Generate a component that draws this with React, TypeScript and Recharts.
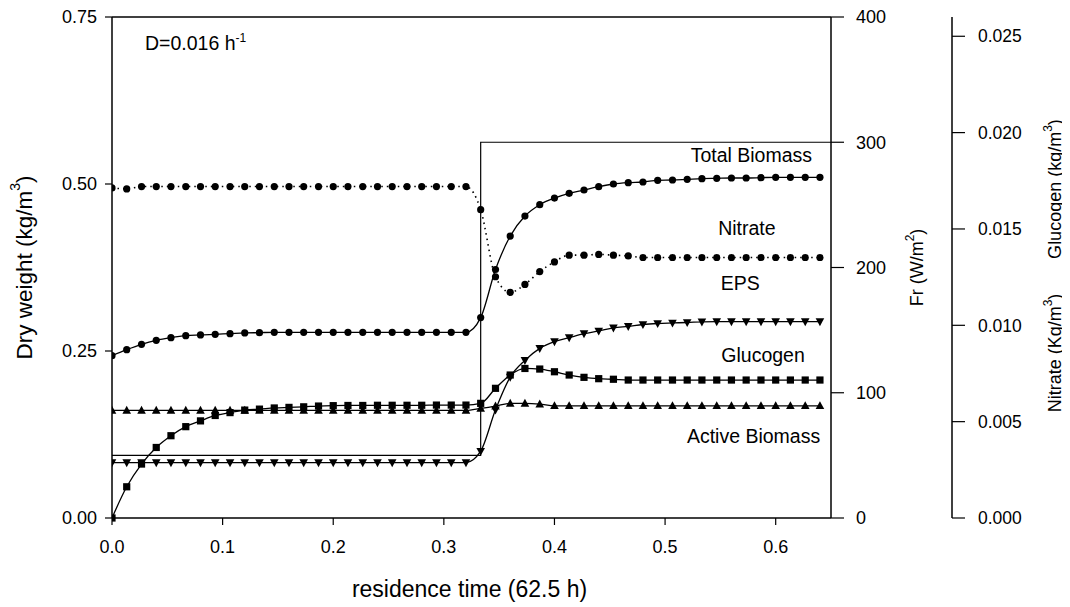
import React from "react";
import {
  ComposedChart,
  Line,
  XAxis,
  YAxis,
  ReferenceLine,
  ReferenceDot,
  Label,
} from "recharts";

// residence time (fraction of 62.5 h)
const time = [
  0, 0.0133, 0.0267, 0.04, 0.0533, 0.0667, 0.08, 0.0933, 0.1067, 0.12,
  0.1333, 0.1467, 0.16, 0.1733, 0.1867, 0.2, 0.2133, 0.2267, 0.24, 0.2533,
  0.2667, 0.28, 0.2933, 0.3067, 0.32, 0.3333, 0.3467, 0.36, 0.3733, 0.3867,
  0.4, 0.4133, 0.4267, 0.44, 0.4533, 0.4667, 0.48, 0.4933, 0.5067, 0.52,
  0.5333, 0.5467, 0.56, 0.5733, 0.5867, 0.6, 0.6133, 0.6267, 0.64,
];

// Dry weight (kg/m3)
const totalBiomass = [
  0.243, 0.252, 0.26, 0.266, 0.27, 0.273, 0.274, 0.275, 0.276, 0.277,
  0.2775, 0.278, 0.278, 0.278, 0.278, 0.278, 0.278, 0.278, 0.278, 0.278,
  0.278, 0.278, 0.278, 0.278, 0.278, 0.3, 0.372, 0.422, 0.452, 0.469,
  0.479, 0.486, 0.491, 0.496, 0.5, 0.502, 0.503, 0.5055, 0.506, 0.507,
  0.508, 0.5085, 0.509, 0.509, 0.5095, 0.51, 0.51, 0.51, 0.51,
];

const eps = [
  0.083, 0.083, 0.083, 0.083, 0.083, 0.083, 0.083, 0.083, 0.083, 0.083,
  0.083, 0.083, 0.083, 0.083, 0.083, 0.083, 0.083, 0.083, 0.083, 0.083,
  0.083, 0.083, 0.083, 0.083, 0.083, 0.1, 0.162, 0.211, 0.236, 0.254,
  0.264, 0.27, 0.276, 0.28, 0.2846, 0.287, 0.2897, 0.2912, 0.292, 0.2927,
  0.2936, 0.294, 0.294, 0.294, 0.294, 0.294, 0.294, 0.294, 0.294,
];

const activeBiomass = [
  0.161, 0.161, 0.161, 0.161, 0.161, 0.161, 0.161, 0.161, 0.161, 0.161,
  0.161, 0.161, 0.161, 0.161, 0.161, 0.161, 0.161, 0.161, 0.161, 0.161,
  0.161, 0.161, 0.161, 0.161, 0.161, 0.164, 0.1675, 0.1715, 0.1715, 0.1705,
  0.168, 0.168, 0.168, 0.168, 0.168, 0.168, 0.168, 0.168, 0.168, 0.168,
  0.168, 0.168, 0.168, 0.168, 0.168, 0.168, 0.168, 0.168, 0.168,
];

// Nitrate and Glucogen (kg/m3)
const nitrate = [
  0.01713, 0.01708, 0.0172, 0.0172, 0.0172, 0.0172, 0.0172, 0.0172, 0.0172, 0.0172,
  0.0172, 0.0172, 0.0172, 0.0172, 0.0172, 0.0172, 0.0172, 0.0172, 0.0172, 0.0172,
  0.0172, 0.0172, 0.0172, 0.0172, 0.0172, 0.016, 0.01252, 0.01171, 0.01212, 0.01279,
  0.01329, 0.01364, 0.01364, 0.01368, 0.01364, 0.0136, 0.01352, 0.01352, 0.01352, 0.01352,
  0.01352, 0.01352, 0.01352, 0.01352, 0.01352, 0.01352, 0.01352, 0.01352, 0.01352,
];

const glucogen = [
  0, 0.00162, 0.0028, 0.00366, 0.00427, 0.00474, 0.00504, 0.00532, 0.00547, 0.0056,
  0.00565, 0.00571, 0.00574, 0.00577, 0.00581, 0.00583, 0.00584, 0.00584, 0.00585, 0.00585,
  0.00585, 0.00585, 0.00586, 0.00586, 0.00586, 0.00595, 0.00673, 0.00742, 0.00776, 0.00773,
  0.00759, 0.00742, 0.0073, 0.00723, 0.0072, 0.00716, 0.00716, 0.00716, 0.00716, 0.00716,
  0.00716, 0.00716, 0.00716, 0.00716, 0.00716, 0.00716, 0.00716, 0.00716, 0.00716,
];

// Light intensity Fr (W/m2)
const frTime = [0, 0.3333, 0.65];
const frValues = [50, 300, 300];

const xTicks = [0, 0.1, 0.2, 0.3, 0.4, 0.5, 0.6];
const dryTicks = [0, 0.25, 0.5, 0.75];
const frTicks = [0, 100, 200, 300, 400];
const concTicks = [0, 0.005, 0.01, 0.015, 0.02, 0.025];

const curveLabels = [
  { text: "Total Biomass", x: 0.578, y: 0.533 },
  { text: "Nitrate", x: 0.574, y: 0.4237 },
  { text: "EPS", x: 0.568, y: 0.341 },
  { text: "Glucogen", x: 0.5886, y: 0.2335 },
  { text: "Active Biomass", x: 0.58, y: 0.112 },
];

const data = time.map((t, i) => ({
  t,
  total: totalBiomass[i],
  eps: eps[i],
  active: activeBiomass[i],
  nitrate: nitrate[i],
  glucogen: glucogen[i],
}));
const frData = frTime.map((t, i) => ({ t, fr: frValues[i] }));

const FONT = "'Liberation Sans', Arial, Helvetica, sans-serif";
const BLACK = "#000";

const circleDot = (p: any) => {
  if (p.cx == null || p.cy == null) return <g key={p.index} />;
  return <circle key={p.index} cx={p.cx} cy={p.cy} r={3.6} fill={BLACK} />;
};
const squareDot = (p: any) => {
  if (p.cx == null || p.cy == null) return <g key={p.index} />;
  return <rect key={p.index} x={p.cx - 3.6} y={p.cy - 3.6} width={7.2} height={7.2} fill={BLACK} />;
};
const triUpDot = (p: any) => {
  if (p.cx == null || p.cy == null) return <g key={p.index} />;
  const { cx, cy } = p;
  return (
    <polygon
      key={p.index}
      points={`${cx},${cy - 4.6} ${cx + 4.3},${cy + 3.3} ${cx - 4.3},${cy + 3.3}`}
      fill={BLACK}
    />
  );
};
const triDownDot = (p: any) => {
  if (p.cx == null || p.cy == null) return <g key={p.index} />;
  const { cx, cy } = p;
  return (
    <polygon
      key={p.index}
      points={`${cx},${cy + 4.6} ${cx + 4.3},${cy - 3.3} ${cx - 4.3},${cy - 3.3}`}
      fill={BLACK}
    />
  );
};

const LeftTitle = (props: any) => {
  const vb = props.viewBox || {};
  const cx = vb.x + 16;
  const cy = vb.y + vb.height / 2;
  return (
    <text
      x={cx}
      y={cy}
      transform={`rotate(-90 ${cx} ${cy})`}
      textAnchor="middle"
      dominantBaseline="central"
      fontSize={22.5}
      fontFamily={FONT}
      fill={BLACK}
    >
      Dry weight (kg/m
      <tspan dy={-9} fontSize={14}>3</tspan>
      <tspan dy={9}>)</tspan>
    </text>
  );
};

const FrTitle = (props: any) => {
  const vb = props.viewBox || {};
  const cx = vb.x + 86;
  const cy = vb.y + vb.height / 2;
  return (
    <text
      x={cx}
      y={cy}
      transform={`rotate(-90 ${cx} ${cy})`}
      textAnchor="middle"
      dominantBaseline="central"
      fontSize={18}
      fontFamily={FONT}
      fill={BLACK}
    >
      Fr (W/m
      <tspan dy={-7} fontSize={12}>2</tspan>
      <tspan dy={7}>)</tspan>
    </text>
  );
};

const ConcTitle = (props: any) => {
  const vb = props.viewBox || {};
  const cx = vb.x + 103;
  const gy = vb.y + 172;
  const ny = vb.y + 336;
  const common = {
    textAnchor: "middle" as const,
    dominantBaseline: "central" as const,
    fontSize: 18,
    fontFamily: FONT,
    fill: BLACK,
  };
  return (
    <g>
      <text x={cx} y={gy} transform={`rotate(-90 ${cx} ${gy})`} {...common}>
        Glucogen (kg/m
        <tspan dy={-7} fontSize={12}>3</tspan>
        <tspan dy={7}>)</tspan>
      </text>
      <text x={cx} y={ny} transform={`rotate(-90 ${cx} ${ny})`} {...common}>
        Nitrate (Kg/m
        <tspan dy={-7} fontSize={12}>3</tspan>
        <tspan dy={7}>)</tspan>
      </text>
    </g>
  );
};

const XTitle = (props: any) => {
  const vb = props.viewBox || {};
  return (
    <text
      x={vb.x + vb.width / 2 - 2}
      y={vb.y + 79}
      textAnchor="middle"
      fontSize={23}
      fontFamily={FONT}
      fill={BLACK}
    >
      residence time (62.5 h)
    </text>
  );
};

const makeTextShape = (text: string) => (p: any) => (
  <text
    x={p.cx}
    y={p.cy}
    textAnchor="middle"
    fontSize={19.5}
    fontFamily={FONT}
    fill={BLACK}
  >
    {text}
  </text>
);

const dShape = (p: any) => (
  <text x={p.cx} y={p.cy} textAnchor="start" fontSize={19.5} fontFamily={FONT} fill={BLACK}>
    D=0.016 h
    <tspan dy={-8} fontSize={12}>-1</tspan>
  </text>
);

const tickStyle = { fill: BLACK, fontSize: 18, fontFamily: FONT };
const axisLine = { stroke: BLACK, strokeWidth: 1.5 };
const tickLine = { stroke: BLACK, strokeWidth: 1.2 };

export default function App() {
  return (
    <ComposedChart
      width={1062}
      height={599}
      data={data}
      margin={{ top: 9, right: 8, bottom: 8, left: 0 }}
      style={{ fontFamily: FONT, overflow: "visible" }}
    >
      <XAxis
        dataKey="t"
        type="number"
        domain={[0, 0.65]}
        ticks={xTicks}
        interval={0}
        tickFormatter={(v: number) => v.toFixed(1)}
        height={81}
        tickSize={7}
        tickMargin={15}
        tick={tickStyle}
        axisLine={axisLine}
        tickLine={tickLine}
        allowDataOverflow
      >
        <Label content={XTitle} />
      </XAxis>
      <YAxis
        yAxisId="L"
        orientation="left"
        width={104}
        domain={[0, 0.75]}
        ticks={dryTicks}
        interval={0}
        tickFormatter={(v: number) => v.toFixed(2)}
        tickSize={7}
        tickMargin={8}
        tick={tickStyle}
        axisLine={axisLine}
        tickLine={tickLine}
      >
        <Label content={LeftTitle} />
      </YAxis>
      <YAxis
        yAxisId="F"
        orientation="right"
        width={121}
        domain={[0, 400]}
        ticks={frTicks}
        interval={0}
        tickSize={13}
        tickMargin={12}
        tick={{ ...tickStyle, textAnchor: "start" }}
        axisLine={axisLine}
        tickLine={tickLine}
      >
        <Label content={FrTitle} />
      </YAxis>
      <YAxis
        yAxisId="N"
        orientation="right"
        width={110}
        domain={[0, 0.026]}
        ticks={concTicks}
        interval={0}
        tickFormatter={(v: number) => v.toFixed(3)}
        tickSize={13}
        tickMargin={13}
        tick={{ ...tickStyle, fontSize: 17.5 }}
        axisLine={axisLine}
        tickLine={tickLine}
      >
        <Label content={ConcTitle} />
      </YAxis>

      <ReferenceLine yAxisId="L" y={0.75} stroke={BLACK} strokeWidth={1.5} ifOverflow="visible" />

      <Line
        data={frData}
        yAxisId="F"
        dataKey="fr"
        type="stepAfter"
        stroke={BLACK}
        strokeWidth={1.2}
        dot={false}
        activeDot={false}
        isAnimationActive={false}
      />
      <Line
        yAxisId="N"
        dataKey="nitrate"
        type="monotone"
        stroke={BLACK}
        strokeWidth={1.6}
        strokeDasharray="1.5 4"
        dot={circleDot}
        activeDot={false}
        isAnimationActive={false}
      />
      <Line
        yAxisId="L"
        dataKey="total"
        type="monotone"
        stroke={BLACK}
        strokeWidth={1.3}
        dot={circleDot}
        activeDot={false}
        isAnimationActive={false}
      />
      <Line
        yAxisId="L"
        dataKey="eps"
        type="monotone"
        stroke={BLACK}
        strokeWidth={1.3}
        dot={triDownDot}
        activeDot={false}
        isAnimationActive={false}
      />
      <Line
        yAxisId="N"
        dataKey="glucogen"
        type="monotone"
        stroke={BLACK}
        strokeWidth={1.3}
        dot={squareDot}
        activeDot={false}
        isAnimationActive={false}
      />
      <Line
        yAxisId="L"
        dataKey="active"
        type="monotone"
        stroke={BLACK}
        strokeWidth={1.3}
        dot={triUpDot}
        activeDot={false}
        isAnimationActive={false}
      />

      {curveLabels.map((c) => (
        <ReferenceDot
          key={c.text}
          yAxisId="L"
          x={c.x}
          y={c.y}
          r={0}
          ifOverflow="visible"
          shape={makeTextShape(c.text)}
        />
      ))}
      <ReferenceDot yAxisId="L" x={0.0298} y={0.7} r={0} ifOverflow="visible" shape={dShape} />
    </ComposedChart>
  );
}
